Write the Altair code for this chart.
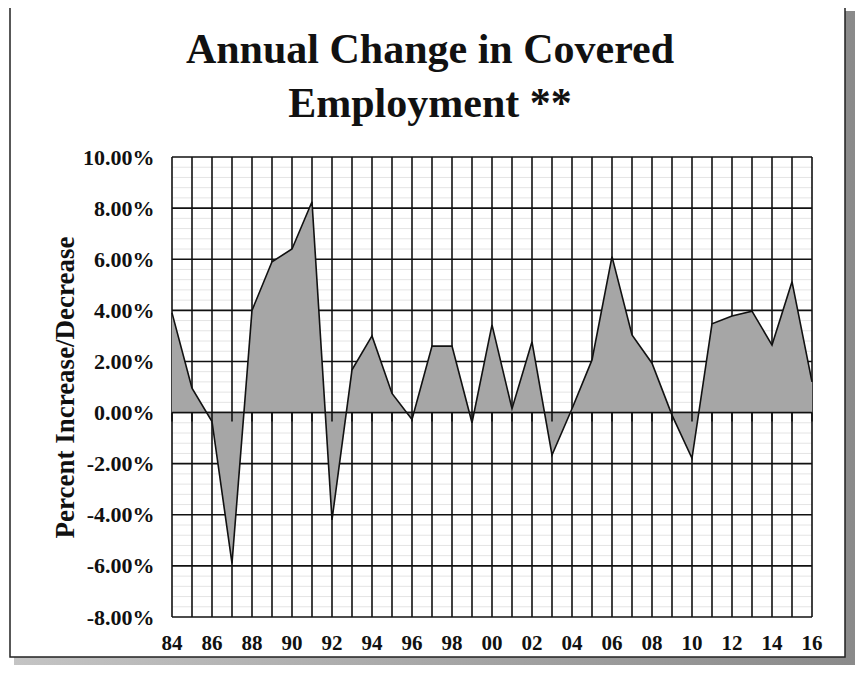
import altair as alt
import pandas as pd
import numpy as np

years = list(range(1984, 2017))
values = [3.9, 0.95, -0.35, -5.9, 4.0, 5.9, 6.4, 8.25, -4.2, 1.67, 3.0, 0.75, -0.27,
          2.6, 2.6, -0.4, 3.43, 0.15, 2.77, -1.66, 0.15, 2.06, 6.1, 3.04, 1.93, -0.1,
          -1.79, 3.47, 3.78, 3.97, 2.64, 5.12, 1.2]
x_label_years = list(range(1984, 2017, 2))
x_labels = [str(y)[2:] for y in x_label_years]
y_ticks = [-8, -6, -4, -2, 0, 2, 4, 6, 8, 10]
title_text = "Annual Change in Covered\nEmployment **"
y_title = "Percent Increase/Decrease"

df = pd.DataFrame({"year": years, "value": values})
xlab_df = pd.DataFrame({"year": x_label_years, "label": x_labels})
minor = [round(v, 2) for v in np.arange(-8, 10.01, 0.4) if abs(v / 2 - round(v / 2)) > 1e-6]
minor_df = pd.DataFrame({"v": minor})
ymajor_df = pd.DataFrame({"v": y_ticks})
one = pd.DataFrame({"a": [0]})

SERIF = "Liberation Serif"
W, H = 640, 460
INK = "#111"

xscale = alt.Scale(domain=[1984, 2016], nice=False, zero=False)
yscale = alt.Scale(domain=[-8, 10], nice=False)

yaxis = alt.Axis(values=y_ticks, grid=False, ticks=False, domain=False, zindex=1,
                 labelExpr="(datum.value < 0 ? '-' : '') + format(abs(datum.value), '.2f') + '%'",
                 labelFont=SERIF, labelFontSize=22, labelFontWeight="bold", labelColor=INK,
                 labelPadding=18, labelOverlap=False,
                 title=y_title, titleFont=SERIF, titleFontSize=27,
                 titleFontWeight="bold", titleColor=INK, titlePadding=3)

# decorative frame (outside plot)
frame_shadow = alt.Chart(one).mark_rect(
    fill=alt.Gradient(gradient="linear", x1=0, x2=1, y1=0, y2=0,
                      stops=[alt.GradientStop(offset=0, color="#c4c4c4"),
                             alt.GradientStop(offset=1, color="#8a8a8a")]),
    clip=False).encode(x=alt.value(-158), x2=alt.value(683), y=alt.value(-146), y2=alt.value(508))
frame = alt.Chart(one).mark_rect(
    fill="white", stroke="#222", strokeWidth=1.5, clip=False).encode(
    x=alt.value(-162), x2=alt.value(673), y=alt.value(-150), y2=alt.value(500))

title = alt.Chart(one).mark_text(
    text=title_text, lineBreak="\n", font=SERIF, fontSize=42, fontWeight="bold",
    color=INK, lineHeight=54, align="center", baseline="alphabetic", clip=False).encode(
    x=alt.value(258), y=alt.value(-94))

minor_rules = alt.Chart(minor_df).mark_rule(color="#e4e4e4", strokeWidth=1).encode(
    y=alt.Y("v:Q", scale=yscale, axis=yaxis))
ymajor_rules = alt.Chart(ymajor_df).mark_rule(color=INK, strokeWidth=1.6).encode(
    y=alt.Y("v:Q", scale=yscale, axis=yaxis))

base = alt.Chart(df)
xgrid_rules = base.mark_rule(color=INK, strokeWidth=1.6).encode(
    x=alt.X("year:Q", scale=xscale, axis=None))

area = base.mark_area(color="#a6a6a6", opacity=1,
                      line={"color": INK, "strokeWidth": 1.6}).encode(
    x=alt.X("year:Q", scale=xscale, axis=None),
    y=alt.Y("value:Q", scale=yscale, axis=yaxis))

zero_rule = alt.Chart(pd.DataFrame({"z": [0]})).mark_rule(color=INK, strokeWidth=1.6).encode(
    y=alt.Y("z:Q", scale=yscale, axis=yaxis))

tick_rules = base.mark_rule(color=INK, strokeWidth=1.6).encode(
    x=alt.X("year:Q", scale=xscale, axis=None),
    y=alt.Y("tz:Q", scale=yscale, axis=yaxis), y2="tz2:Q").transform_calculate(tz="0", tz2="-0.35")

xlabels = alt.Chart(xlab_df).mark_text(
    font=SERIF, fontSize=21, fontWeight="bold", color=INK, align="center",
    baseline="alphabetic", clip=False).encode(
    x=alt.X("year:Q", scale=xscale, axis=None), y=alt.value(H + 33), text="label:N")

chart = alt.layer(frame_shadow, frame, title, minor_rules, ymajor_rules, xgrid_rules,
                  area, zero_rule, tick_rules, xlabels).properties(
    width=W, height=H,
    autosize=alt.AutoSizeParams(type="none"),
    padding={"left": 164, "top": 149, "right": 43, "bottom": 48},
).configure_view(stroke=INK, strokeWidth=1.6).configure(background="white")

chart.save("out.html", embed_options={"renderer": "svg", "actions": False})
